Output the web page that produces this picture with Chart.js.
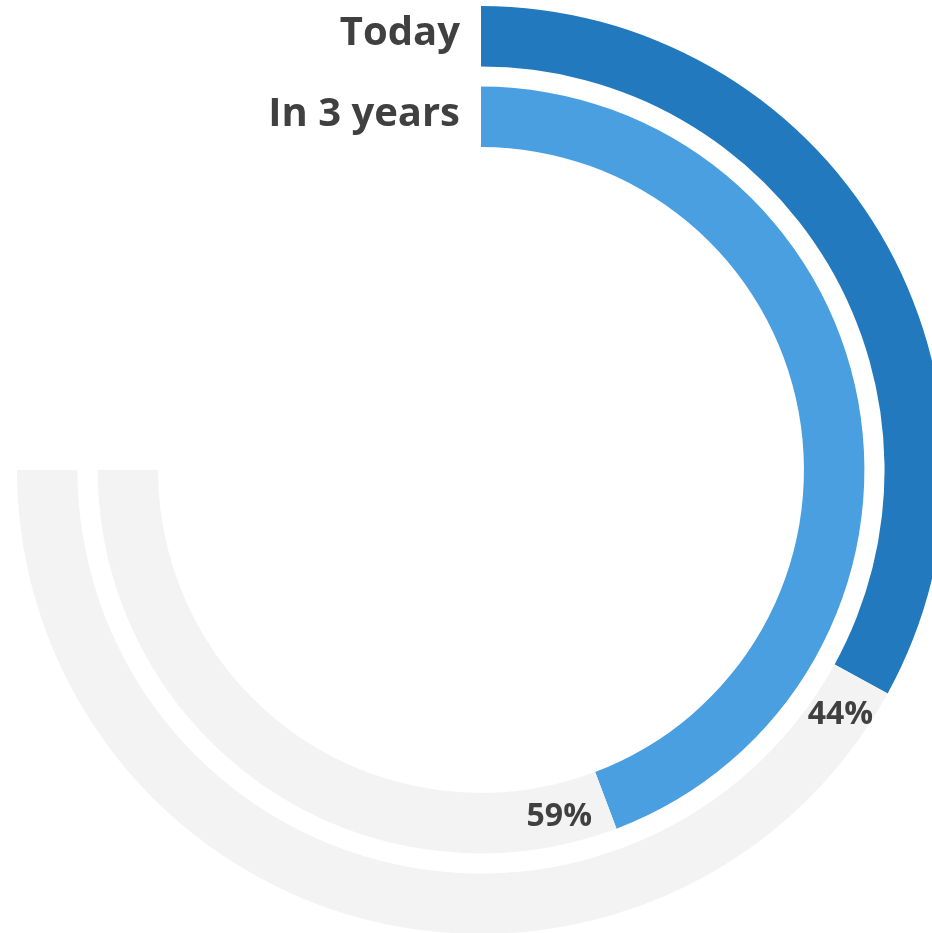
<!DOCTYPE html>
<html>
<head>
<meta charset="utf-8">
<script src="https://cdn.jsdelivr.net/npm/chart.js@4"></script>
<style>
  html, body { margin: 0; padding: 0; background: #fff; }
  body { width: 932px; height: 933px; overflow: hidden; position: relative; }
  #wrap { position: absolute; left: 17px; top: 6px; width: 928px; height: 928px; }
</style>
</head>
<body>
<div id="wrap"><canvas id="chart"></canvas></div>
<script>
// series shown as rings, outer first
const seriesLabels = ['Today', 'In 3 years'];
const seriesValues = [44, 59];
const maxValue = 100;

const ringColors = ['#2379BD', '#4A9FE0'];
const trackColor = '#F3F3F3';
const textColor = '#404040';

function ring(i) {
    return {
        label: seriesLabels[i],
        data: [seriesValues[i], maxValue - seriesValues[i]],
        backgroundColor: [ringColors[i], trackColor],
        borderWidth: 0,
        weight: 60
    };
}

// transparent ring used as the gap between the two bars
const gap = { label: 'gap', data: [maxValue], backgroundColor: ['rgba(0,0,0,0)'], borderWidth: 0, weight: 20 };

const ringLabels = {
    id: 'ringLabels',
    afterDraw(chart) {
        const ctx = chart.ctx;
        ctx.save();
        ctx.fillStyle = textColor;
        [0, 2].forEach((dsIndex, i) => {
            const arc = chart.getDatasetMeta(dsIndex).data[0];
            const p = arc.getProps(['x', 'y', 'endAngle', 'innerRadius', 'outerRadius'], true);
            const mid = (p.innerRadius + p.outerRadius) / 2;

            // series name left of the ring start
            ctx.font = 'bold 40px "Open Sans"';
            ctx.textAlign = 'right';
            ctx.textBaseline = 'alphabetic';
            ctx.fillText(seriesLabels[i], p.x - 21, p.y - mid + 9);

            // value just past the end of the bar
            const txt = seriesValues[i] + '%';
            ctx.font = 'bold 32px "Open Sans"';
            const w = ctx.measureText(txt).width;
            const h = 23;
            const a0 = p.endAngle;
            const extent = Math.abs(Math.sin(a0)) * w / 2 + Math.abs(Math.cos(a0)) * h / 2;
            const a = a0 + (extent + 14) / mid;
            const cx = p.x + mid * Math.cos(a);
            const cy = p.y + mid * Math.sin(a);
            ctx.textAlign = 'center';
            ctx.fillText(txt, cx, cy + h / 2);
        });
        ctx.restore();
    }
};

function draw() {
    new Chart(document.getElementById('chart'), {
        type: 'doughnut',
        data: {
            labels: ['value', 'rest'],
            datasets: [ring(0), gap, ring(1)]
        },
        options: {
            responsive: true,
            maintainAspectRatio: false,
            animation: false,
            events: [],
            rotation: 0,
            circumference: 270,
            cutout: '69.6%',
            layout: { padding: 0 },
            plugins: {
                legend: { display: false },
                tooltip: { enabled: false }
            }
        },
        plugins: [ringLabels]
    });
}

if (document.fonts && document.fonts.load) {
    Promise.all([
        document.fonts.load('bold 40px "Open Sans"'),
        document.fonts.load('bold 32px "Open Sans"')
    ]).then(draw, draw);
} else {
    draw();
}
</script>
</body>
</html>
